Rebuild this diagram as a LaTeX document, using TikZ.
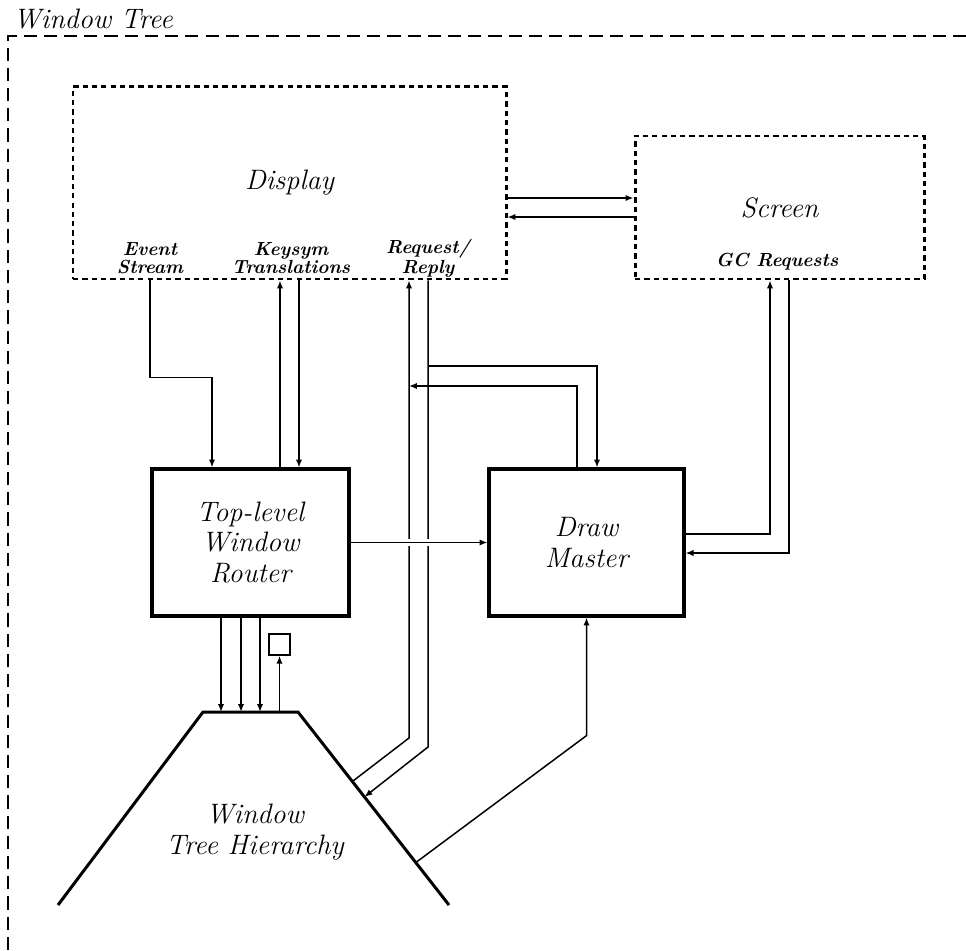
\documentclass[tikz,border=0pt]{standalone}
\usepackage{tikz}
\usetikzlibrary{arrows.meta,calc,positioning}

\begin{document}
\begin{tikzpicture}[x=0.2mm,y=-0.2mm,
    lbl/.style={font=\fontsize{16}{17.5}\selectfont\itshape,align=center},
    sublbl/.style={font=\fontsize{10.8}{10}\selectfont\bfseries\itshape,align=center,inner sep=0pt},
    dotbox/.style={draw,line width=1.7pt,dash pattern=on 3pt off 2.3pt,lbl},
    solidbox/.style={draw,line width=1.8pt,lbl},
    arr/.style={line width=0.85pt,-{Latex[length=4.5pt,width=3.6pt]}}]
  \useasboundingbox (0,0) rectangle (966,950);
  \node[anchor=west,inner sep=0pt,font=\fontsize{16}{18}\selectfont\itshape] (title) at (13,19) {Window Tree};
  \draw[line width=0.75pt,dash pattern=on 7.5pt off 4pt] (8,950) -- (8,36) -- (966,36);

  \node[dotbox,minimum width=8.66cm,minimum height=3.84cm] (disp) at (289.5,183) {Display};
  \node[dotbox,minimum width=5.78cm,minimum height=2.86cm] (scr) at (779.5,207.5) {Screen};
  \node[sublbl] (evlbl) at (150,258) {Event\\Stream};
  \node[sublbl] (kslbl) at (291,258) {Keysym\\Translations};
  \node[sublbl] (rqlbl) at (428,258) {Request/\\Reply};
  \node[sublbl] (gclbl) at (777,262) {GC Requests};

  \node[solidbox,minimum width=3.94cm,minimum height=2.94cm] (router) at (250.5,542.5) {Top-level\\Window\\Router};
  \node[solidbox,minimum width=3.9cm,minimum height=2.94cm] (dm) at (586.5,542.5) {Draw\\Master};
  \node[draw,line width=0.85pt,minimum size=0.42cm,inner sep=0pt] (sbox) at (279.5,644.5) {};

  \coordinate (tl) at (203,712);
  \coordinate (tr) at (298,712);
  \coordinate (bl) at (58,905);
  \coordinate (br) at (449,905);
  \draw[line width=1.7pt] (bl) -- (tl) -- (tr) -- (br);
  \node[lbl] (treelbl) at (255,832) {Window\\Tree Hierarchy};

  \coordinate (s1) at ([yshift=0.19cm]scr.west);
  \coordinate (s2) at ([yshift=-0.19cm]scr.west);
  \draw[arr] (disp.east |- s1) -- (s1);
  \draw[arr] (s2) -- (s2 -| disp.east);

  \draw[arr] ([xshift=-2.79cm]disp.south) -- ++(0,-1.94cm) -| ([xshift=-0.77cm]router.north);
  \draw[arr] ([xshift=0.59cm]router.north) coordinate (k1) -- (k1 |- disp.south);
  \draw[arr] ([xshift=0.19cm]disp.south) coordinate (k2) -- (k2 |- router.north);

  \coordinate (rqa) at (409,738);
  \coordinate (rqb) at (428,747);
  \draw[arr] ($(tr)!0.36!(br)$) -- (rqa) -- (rqa |- disp.south);
  \draw[arr] (rqb |- disp.south) -- (rqb) -- ($(tr)!0.44!(br)$);
  \coordinate (br1) at (428,366);
  \coordinate (br2) at (409,386);
  \draw[arr] (br1) -| ([xshift=0.21cm]dm.north);
  \draw[arr] ([xshift=-0.19cm]dm.north) |- (br2);

  \draw[arr,preaction={draw,white,line width=4pt,-}] (router.east) -- (dm.west);

  \draw[arr] ($(tr)!0.78!(br)$) -- ([yshift=-2.36cm]dm.south) -- (dm.south);
  \draw[arr] ([yshift=0.17cm]dm.east) -| ([xshift=-0.19cm]scr.south);
  \draw[arr] ([xshift=0.19cm]scr.south) |- ([yshift=-0.21cm]dm.east);

  \foreach \dx in {-0.59,-0.19,0.19}
    \draw[arr] ([xshift=\dx cm]router.south) coordinate (rt) -- (rt |- tl);
  \draw[arr] (sbox.south |- tl) -- (sbox.south);
\end{tikzpicture}
\end{document}
